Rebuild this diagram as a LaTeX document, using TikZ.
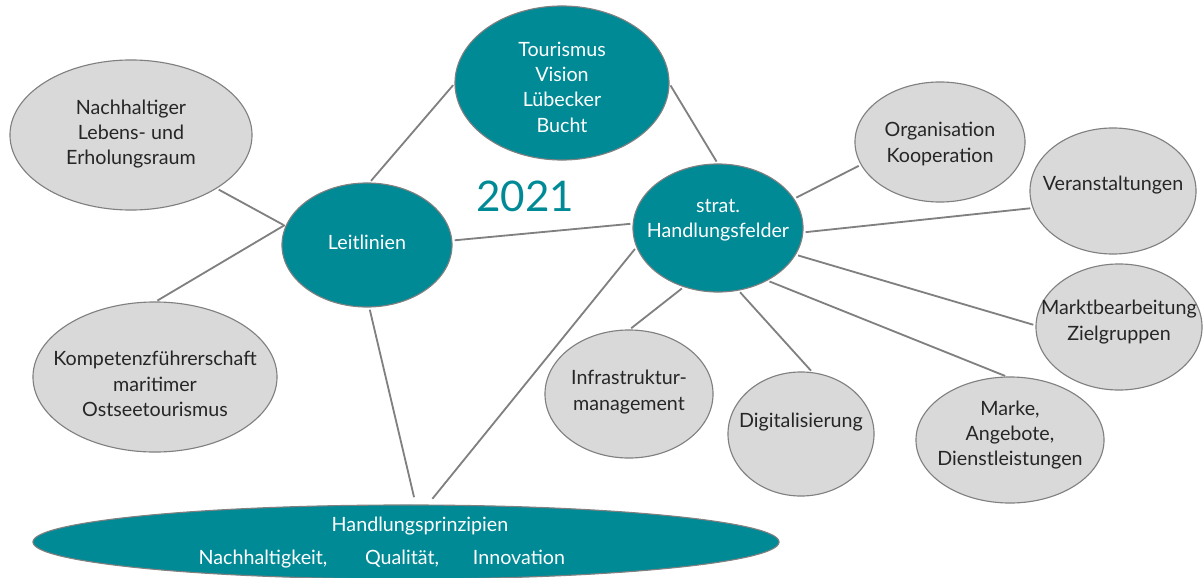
\documentclass[tikz,border=0pt]{standalone}
\usepackage{fontspec}
\setmainfont{Lato}
\usetikzlibrary{shapes.geometric}
\definecolor{teal1}{RGB}{0,138,150}
\definecolor{fillgray}{RGB}{217,217,217}
\definecolor{edgegray}{RGB}{128,128,128}
\definecolor{txtgray}{RGB}{38,38,38}
\begin{document}
\begin{tikzpicture}[x=0.025cm,y=-0.025cm,
  bub/.style={ellipse, draw=edgegray, line width=0.8pt, inner sep=0pt, outer sep=0pt},
  grayb/.style={bub, fill=fillgray},
  tealb/.style={bub, fill=teal1},
  gtxt/.style={text=txtgray, font=\fontsize{14}{18}\selectfont, align=center, inner sep=0pt},
  wtxt/.style={text=white, font=\fontsize{14}{18}\selectfont, align=center, inner sep=0pt},
  conn/.style={draw=edgegray, line width=1.3pt, shorten <=2pt, shorten >=2pt},
  connh/.style={conn, shorten >=0.2cm}]
\useasboundingbox (0,0) rectangle (1203,578);
\clip (0,0) rectangle (1203,578);
% teal nodes
\node[tealb, minimum width=5.35cm, minimum height=3.85cm] (T) at (562,83) {};
\node[wtxt] (Tt) at (562,87) {Tourismus\\Vision\\Lübecker\\Bucht};
\node[tealb, minimum width=4.25cm, minimum height=3.1cm] (L) at (367,245) {};
\node[wtxt] (Lt) at (367,242) {Leitlinien};
\node[tealb, minimum width=4.25cm, minimum height=3.2cm] (S) at (718,228) {};
\node[wtxt] (St) at (718,220) {strat.\\Handlungsfelder};
\node[tealb, minimum width=18.65cm, minimum height=1.85cm] (H) at (406,542) {};
\node[wtxt] (Ht) at (420,526) {Handlungsprinzipien};
\node[wtxt, anchor=base] (H1) at (263,564) {Nachhaltigkeit,};
\node[wtxt, anchor=base] (H2) at (402,564) {Qualität,};
\node[wtxt, anchor=base] (H3) at (519,564) {Innovation};
% year
\node[text=teal1, font=\fontsize{30}{36}\selectfont, inner sep=0pt] (Y) at (525,196) {2021};
% gray nodes
\node[grayb, minimum width=6.05cm, minimum height=3.75cm] (N) at (131,135) {};
\node[gtxt] (Nt) at (131,134) {Nachhaltiger\\Lebens- und\\Erholungsraum};
\node[grayb, minimum width=6.1cm, minimum height=3.75cm] (K) at (155,377) {};
\node[gtxt] (Kt) at (155,384) {Kompetenzführerschaft\\maritimer\\Ostseetourismus};
\node[grayb, minimum width=4.25cm, minimum height=3.0cm] (O) at (940,142) {};
\node[gtxt] (Ot) at (940,144) {Organisation\\Kooperation};
\node[grayb, minimum width=4.15cm, minimum height=3.15cm] (V) at (1113,191) {};
\node[gtxt] (Vt) at (1113,185) {Veranstaltungen};
\node[grayb, minimum width=4.15cm, minimum height=3.15cm] (M) at (1119,327) {};
\node[gtxt] (Mt) at (1119,322) {Marktbearbeitung\\Zielgruppen};
\node[grayb, minimum width=4.7cm, minimum height=3.15cm] (MA) at (1010,440) {};
\node[gtxt] (MAt) at (1010,435) {Marke,\\Angebote,\\Dienstleistungen};
\node[grayb, minimum width=3.65cm, minimum height=3.1cm] (D) at (801,434) {};
\node[gtxt] (Dt) at (801,422) {Digitalisierung};
\node[grayb, minimum width=4.2cm, minimum height=3.2cm] (I) at (629,394) {};
\node[gtxt] (It) at (629,392) {Infrastruktur-\\management};
% connectors
\draw[conn] (N.-32) -- (L.167);
\draw[conn] (K.90) -- (L.165);
\draw[conn] (L.88) -- (T.180);
\draw[conn] (T.0) -- (S.90);
\draw[conn] (L.3) -- (S.177);
\draw[connh] (L.-88) -- (H.75);
\draw[connh] (S.193) -- (H.60);
\draw[conn] (S.21) -- (O.196);
\draw[conn] (S.-3) -- (V.192);
\draw[conn] (S.-19) -- (M.179);
\draw[conn] (S.-120) -- (I.90);
\draw[conn] (S.-72) -- (D.79);
\draw[conn] (S.-47) -- (MA.92);
\end{tikzpicture}
\end{document}
